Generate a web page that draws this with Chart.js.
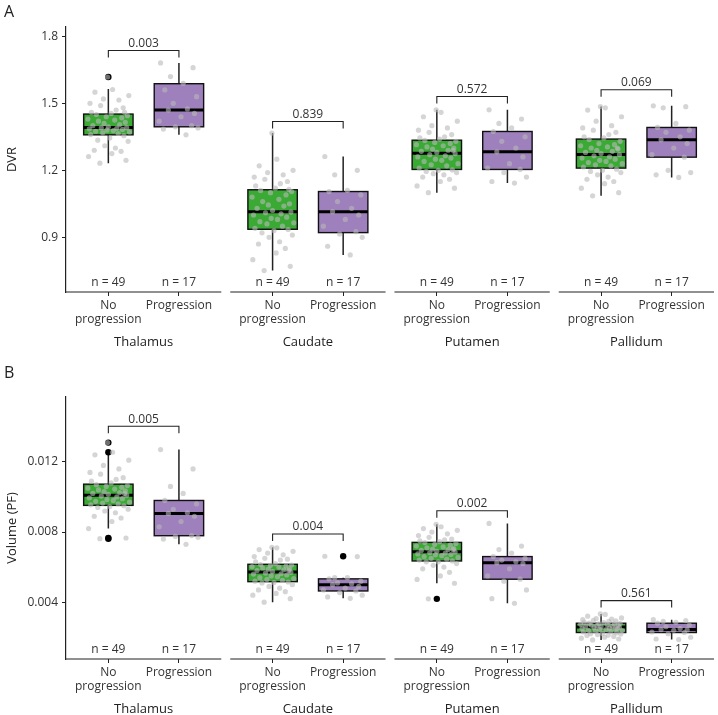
<!DOCTYPE html>
<html>
<head>
<meta charset="utf-8">
<script src="https://cdn.jsdelivr.net/npm/chart.js@4.4.1/dist/chart.umd.min.js"></script>
<style>
    html, body { margin: 0; padding: 0; background: #fff; }
    #wrap { position: relative; width: 718px; height: 715px; }
    .panel { position: absolute; left: 0; }
    #panelA { top: 0; }
    #panelB { top: 355px; }
    .tag { position: absolute; left: 4px; font: 16px 'Open Sans', sans-serif; color: #222; }
</style>
</head>
<body>
<div id="wrap">
    <div class="panel" id="panelA"><canvas id="chartA" width="718" height="355"></canvas></div>
    <div class="panel" id="panelB"><canvas id="chartB" width="718" height="360"></canvas></div>
    <div class="tag" style="top:0px">A</div>
    <div class="tag" style="top:361px">B</div>
</div>
<script>
// Regions (facets) and groups
const regions = ['Thalamus', 'Caudate', 'Putamen', 'Pallidum'];
const groupLabels = [['No', 'progression'], 'Progression'];
const groupSizes = [49, 17];

// Tick labels
const dvrTicks = [0.9, 1.2, 1.5, 1.8];
const volTicks = [0.004, 0.008, 0.012];

// Box summaries [lower whisker, Q1, median, Q3, upper whisker], order: region x group
const dvrBoxes = [
    [1.232, 1.359, 1.392, 1.452, 1.564], [1.359, 1.395, 1.470, 1.588, 1.681],
    [0.751, 0.936, 1.015, 1.113, 1.367], [0.821, 0.921, 1.015, 1.105, 1.262],
    [1.100, 1.204, 1.277, 1.335, 1.471], [1.143, 1.204, 1.283, 1.374, 1.471],
    [1.086, 1.210, 1.271, 1.340, 1.486], [1.168, 1.259, 1.337, 1.392, 1.489]
];
const dvrOutliers = [[1.618], [], [], [], [], [], [], []];
const dvrPValues = ['0.003', '0.839', '0.572', '0.069'];
const dvrBracketY = [1.737, 1.419, 1.531, 1.561];

const volBoxes = [
    [0.00820, 0.00952, 0.01010, 0.01073, 0.01240], [0.00730, 0.00779, 0.00906, 0.00980, 0.01270],
    [0.00400, 0.00517, 0.00572, 0.00616, 0.00713], [0.00422, 0.00464, 0.00500, 0.00533, 0.00540],
    [0.00508, 0.00635, 0.00688, 0.00741, 0.00844], [0.00394, 0.00531, 0.00625, 0.00660, 0.00849],
    [0.00185, 0.00227, 0.00258, 0.00280, 0.00333], [0.00187, 0.00227, 0.00244, 0.00280, 0.00300]
];
const volOutliers = [[0.0131, 0.01255, 0.00766, 0.00762], [], [], [0.00662], [0.00419], [], [], []];
const volPValues = ['0.005', '0.004', '0.002', '0.561'];
const volBracketY = [0.01403, 0.00789, 0.00921, 0.00409];

// Individual subjects
const dvrPoints = [
    [1.232, 1.245, 1.262, 1.275, 1.285, 1.29, 1.30, 1.31, 1.33, 1.335, 1.345, 1.355,
     1.36, 1.365, 1.368, 1.372, 1.375, 1.378, 1.38, 1.383, 1.386, 1.388, 1.39, 1.391,
     1.395, 1.40, 1.405, 1.41, 1.415, 1.42, 1.425, 1.43, 1.435, 1.44, 1.445, 1.45,
     1.455, 1.46, 1.47, 1.48, 1.49, 1.50, 1.515, 1.52, 1.535, 1.55, 1.562, 1.618, 1.46],
    [1.359, 1.385, 1.39, 1.395, 1.40, 1.42, 1.44, 1.455, 1.47, 1.475, 1.50, 1.53, 1.56, 1.59, 1.62, 1.66, 1.681],
    [0.751, 0.77, 0.80, 0.83, 0.85, 0.87, 0.88, 0.90, 0.91, 0.92, 0.93, 0.935,
     0.94, 0.95, 0.96, 0.965, 0.97, 0.98, 0.985, 0.99, 1.0, 1.005, 1.01, 1.013,
     1.02, 1.03, 1.04, 1.045, 1.05, 1.06, 1.07, 1.08, 1.09, 1.10, 1.105, 1.11,
     1.12, 1.13, 1.14, 1.15, 1.16, 1.17, 1.18, 1.19, 1.20, 1.22, 1.25, 1.367, 1.115],
    [0.821, 0.86, 0.90, 0.915, 0.925, 0.95, 0.98, 1.0, 1.015, 1.03, 1.06, 1.09, 1.105, 1.11, 1.18, 1.20, 1.262],
    [1.10, 1.12, 1.13, 1.15, 1.16, 1.17, 1.18, 1.185, 1.19, 1.195, 1.20, 1.202,
     1.21, 1.22, 1.225, 1.23, 1.24, 1.245, 1.25, 1.255, 1.26, 1.265, 1.27, 1.275,
     1.28, 1.285, 1.29, 1.295, 1.30, 1.305, 1.31, 1.315, 1.32, 1.325, 1.33, 1.334,
     1.34, 1.345, 1.35, 1.36, 1.37, 1.38, 1.39, 1.40, 1.42, 1.44, 1.46, 1.471, 1.29],
    [1.143, 1.15, 1.17, 1.19, 1.204, 1.21, 1.23, 1.26, 1.283, 1.30, 1.33, 1.35, 1.374, 1.39, 1.41, 1.43, 1.471],
    [1.086, 1.10, 1.12, 1.14, 1.15, 1.16, 1.17, 1.18, 1.19, 1.195, 1.20, 1.205,
     1.215, 1.22, 1.225, 1.23, 1.235, 1.24, 1.245, 1.25, 1.255, 1.26, 1.265, 1.27,
     1.275, 1.28, 1.285, 1.29, 1.295, 1.30, 1.305, 1.31, 1.315, 1.32, 1.33, 1.338,
     1.345, 1.35, 1.36, 1.37, 1.38, 1.39, 1.40, 1.42, 1.44, 1.47, 1.48, 1.486, 1.30],
    [1.168, 1.18, 1.19, 1.20, 1.259, 1.27, 1.30, 1.32, 1.337, 1.35, 1.37, 1.38, 1.392, 1.41, 1.48, 1.485, 1.489]
];

const volPoints = [
    [0.00762, 0.00766, 0.0082, 0.0086, 0.0088, 0.0089, 0.0091, 0.0092, 0.0093, 0.0094, 0.00945, 0.0095,
     0.00955, 0.0096, 0.00965, 0.0097, 0.00975, 0.0098, 0.00985, 0.0099, 0.00995, 0.0100, 0.01005, 0.0101,
     0.01015, 0.0102, 0.01025, 0.0103, 0.01035, 0.0104, 0.01045, 0.0105, 0.01055, 0.0106, 0.01065, 0.0107,
     0.0108, 0.0109, 0.0110, 0.0111, 0.0113, 0.0114, 0.0116, 0.0118, 0.0121, 0.0124, 0.01255, 0.0131, 0.0102],
    [0.0073, 0.0076, 0.0077, 0.00775, 0.0078, 0.0083, 0.0086, 0.0089, 0.00906, 0.0091, 0.0093, 0.0096, 0.0098, 0.0102, 0.0106, 0.0116, 0.0127],
    [0.0040, 0.0042, 0.0044, 0.0045, 0.0046, 0.0047, 0.0048, 0.0049, 0.0050, 0.0051, 0.00512, 0.00515,
     0.0052, 0.00525, 0.0053, 0.00535, 0.0054, 0.00545, 0.0055, 0.00555, 0.0056, 0.00562, 0.00566, 0.0057,
     0.00575, 0.0058, 0.00585, 0.00588, 0.0059, 0.00595, 0.0060, 0.00603, 0.00606, 0.0061, 0.00612, 0.00615,
     0.0062, 0.0063, 0.0064, 0.00645, 0.0065, 0.0066, 0.0067, 0.0068, 0.0069, 0.0070, 0.0071, 0.00713, 0.0058],
    [0.00422, 0.0043, 0.0044, 0.00455, 0.00464, 0.0047, 0.0048, 0.0049, 0.0050, 0.00505, 0.0051, 0.0052, 0.00533, 0.0054, 0.0054, 0.0066, 0.00662],
    [0.00419, 0.00508, 0.0053, 0.0055, 0.0057, 0.0059, 0.0060, 0.0061, 0.0062, 0.0063, 0.0063, 0.00635,
     0.0064, 0.00645, 0.0065, 0.00655, 0.0066, 0.00665, 0.0067, 0.00672, 0.00675, 0.0068, 0.00683, 0.00686,
     0.0069, 0.00695, 0.0070, 0.00703, 0.00706, 0.0071, 0.00715, 0.0072, 0.00725, 0.0073, 0.00735, 0.0074,
     0.00745, 0.0075, 0.00755, 0.0076, 0.0077, 0.0078, 0.0079, 0.0080, 0.0081, 0.0082, 0.0083, 0.00844, 0.0070],
    [0.00394, 0.0042, 0.0047, 0.0052, 0.00531, 0.0055, 0.0059, 0.0062, 0.00625, 0.0063, 0.0064, 0.0065, 0.0066, 0.0068, 0.0070, 0.0072, 0.00849],
    [0.00185, 0.0019, 0.00195, 0.0020, 0.00205, 0.0021, 0.00212, 0.00215, 0.00218, 0.0022, 0.00222, 0.00225,
     0.0023, 0.00232, 0.00235, 0.00238, 0.0024, 0.00243, 0.00245, 0.00248, 0.0025, 0.00252, 0.00255, 0.00257,
     0.0026, 0.00262, 0.00264, 0.00266, 0.00268, 0.0027, 0.00272, 0.00274, 0.00276, 0.00277, 0.00278, 0.0028,
     0.00283, 0.00286, 0.0029, 0.00293, 0.00296, 0.0030, 0.00303, 0.00306, 0.0031, 0.0032, 0.0033, 0.00333, 0.0025],
    [0.00187, 0.0019, 0.0020, 0.0022, 0.00227, 0.0023, 0.0024, 0.00242, 0.00244, 0.0025, 0.0026, 0.0027, 0.0028, 0.00285, 0.0029, 0.00295, 0.0030]
];

// horizontal jitter offsets (category units), one list per group
const jitterNo = [-0.12, 0.25, -0.28, 0.05, 0.18, -0.2, 0.1, -0.05, 0.28, -0.15,
    0.02, 0.22, -0.25, 0.14, -0.08, 0.3, -0.18, 0.07, -0.02, 0.2,
    -0.27, 0.12, -0.1, 0.26, 0.0, -0.22, 0.16, -0.06, 0.24, -0.14,
    0.09, -0.29, 0.19, -0.03, 0.27, -0.17, 0.04, -0.24, 0.11, 0.21,
    -0.11, -0.26, 0.15, -0.07, 0.29, -0.19, 0.06, -0.01, 0.23];
const jitterProg = [0.1, -0.22, 0.27, -0.05, 0.18, -0.28, 0.03, 0.22, -0.15, 0.12, -0.08, 0.25, -0.2, 0.06, -0.12, 0.2, -0.26];

// Layout of facets on a shared linear x axis
const FACET_W = 2.2;
const FACET_GAP = 0.127;
const BOX_HALF = 0.35;
const groupColors = ['#3aaa35', '#9e80bc'];
const textColor = '#333';
const FONT = "'Open Sans', sans-serif";

function facetStart(r) { return r * (FACET_W + FACET_GAP); }
const catPos = [];
regions.forEach((r, i) => { catPos.push(facetStart(i) + 0.6, facetStart(i) + 1.6); });
const xMax = facetStart(regions.length - 1) + FACET_W;

const boxPlugin = {
    id: 'boxes',
    beforeDatasetsDraw(chart, args, opts) {
        const { ctx, scales: { x, y } } = chart;
        opts.boxes.forEach((b, i) => {
            const left = x.getPixelForValue(catPos[i] - BOX_HALF);
            const right = x.getPixelForValue(catPos[i] + BOX_HALF);
            const mid = x.getPixelForValue(catPos[i]);
            const [lo, q1, med, q3, hi] = b.map(v => y.getPixelForValue(v));
            ctx.save();
            ctx.strokeStyle = '#222';
            ctx.lineWidth = 1.5;
            ctx.beginPath();
            ctx.moveTo(mid, lo); ctx.lineTo(mid, q1);
            ctx.moveTo(mid, q3); ctx.lineTo(mid, hi);
            ctx.stroke();
            ctx.fillStyle = groupColors[i % 2];
            ctx.fillRect(left, q3, right - left, q1 - q3);
            ctx.lineWidth = 1.4;
            ctx.strokeStyle = '#111';
            ctx.strokeRect(left, q3, right - left, q1 - q3);
            ctx.lineWidth = 3;
            ctx.strokeStyle = '#000';
            ctx.beginPath();
            ctx.moveTo(left, med); ctx.lineTo(right, med);
            ctx.stroke();
            ctx.restore();
        });
    },
    afterDatasetsDraw(chart, args, opts) {
        const { ctx, chartArea, scales: { x, y } } = chart;
        ctx.save();
        ctx.font = '12px ' + FONT;
        ctx.fillStyle = textColor;
        ctx.textAlign = 'center';
        // significance brackets
        regions.forEach((r, i) => {
            const x1 = x.getPixelForValue(catPos[2 * i]);
            const x2 = x.getPixelForValue(catPos[2 * i + 1]);
            const yb = y.getPixelForValue(opts.bracketY[i]);
            ctx.strokeStyle = '#222';
            ctx.lineWidth = 1.1;
            ctx.beginPath();
            ctx.moveTo(x1, yb + 7); ctx.lineTo(x1, yb); ctx.lineTo(x2, yb); ctx.lineTo(x2, yb + 7);
            ctx.stroke();
            ctx.textBaseline = 'bottom';
            ctx.fillText(opts.pValues[i], (x1 + x2) / 2, yb - 1);
        });
        // group sizes
        ctx.textBaseline = 'middle';
        catPos.forEach((c, i) => {
            ctx.fillText('n = ' + groupSizes[i % 2], x.getPixelForValue(c), chartArea.bottom - 9);
        });
        ctx.restore();
    },
    afterDraw(chart) {
        const { ctx, chartArea, scales: { x } } = chart;
        ctx.save();
        ctx.strokeStyle = '#222';
        ctx.lineWidth = 1.2;
        ctx.font = '13px ' + FONT;
        ctx.fillStyle = '#222';
        ctx.textAlign = 'center';
        ctx.textBaseline = 'middle';
        regions.forEach((r, i) => {
            const a = x.getPixelForValue(facetStart(i));
            const b = x.getPixelForValue(facetStart(i) + FACET_W);
            ctx.beginPath();
            ctx.moveTo(a, chartArea.bottom); ctx.lineTo(b, chartArea.bottom);
            ctx.stroke();
            ctx.fillText(r, (a + b) / 2, chartArea.bottom + 50);
        });
        ctx.restore();
    }
};

function makePanel(canvasId, cfg) {
    const pts = [];
    const outs = [];
    cfg.points.forEach((vals, i) => {
        const jit = i % 2 === 0 ? jitterNo : jitterProg;
        vals.forEach((v, j) => pts.push({ x: catPos[i] + jit[j % jit.length], y: v }));
        cfg.outliers[i].forEach(v => outs.push({ x: catPos[i], y: v }));
    });

    return new Chart(document.getElementById(canvasId), {
        type: 'scatter',
        data: {
            datasets: [
                { data: pts, backgroundColor: 'rgba(185,185,185,0.6)', borderWidth: 0, pointRadius: 2.6 },
                { data: outs, backgroundColor: '#000', borderWidth: 0, pointRadius: 3.2 }
            ]
        },
        plugins: [boxPlugin],
        options: {
            responsive: false,
            animation: false,
            events: [],
            layout: { padding: { top: cfg.top, right: 1, left: 0, bottom: 0 } },
            plugins: {
                legend: { display: false },
                tooltip: { enabled: false },
                boxes: { boxes: cfg.boxes, bracketY: cfg.bracketY, pValues: cfg.pValues }
            },
            scales: {
                x: {
                    type: 'linear',
                    min: 0,
                    max: xMax,
                    afterBuildTicks: scale => { scale.ticks = catPos.map(v => ({ value: v })); },
                    afterFit: scale => { scale.height = cfg.xHeight; },
                    border: { display: false },
                    grid: { drawOnChartArea: false, drawTicks: true, tickLength: 4, color: '#222' },
                    ticks: {
                        autoSkip: false,
                        maxRotation: 0,
                        padding: 2,
                        color: textColor,
                        font: { family: FONT, size: 12, lineHeight: 1.2 },
                        callback: (v, i) => groupLabels[i % 2]
                    }
                },
                y: {
                    min: cfg.yMin,
                    max: cfg.yMax,
                    afterBuildTicks: scale => { scale.ticks = cfg.ticks.map(v => ({ value: v })); },
                    afterFit: scale => { scale.width = 66; },
                    border: { display: true, color: '#222', width: 1.2 },
                    grid: { drawOnChartArea: false, drawTicks: true, tickLength: 4, color: '#222' },
                    ticks: {
                        padding: 4,
                        color: textColor,
                        font: { family: FONT, size: 12 },
                        callback: v => v.toFixed(cfg.decimals)
                    },
                    title: {
                        display: true,
                        text: cfg.title,
                        color: '#222',
                        font: { family: FONT, size: 13 }
                    }
                }
            }
        }
    });
}

makePanel('chartA', {
    points: dvrPoints, outliers: dvrOutliers, boxes: dvrBoxes,
    bracketY: dvrBracketY, pValues: dvrPValues, ticks: dvrTicks,
    yMin: 0.655, yMax: 1.842, decimals: 1, title: 'DVR',
    top: 27, xHeight: 63
});

makePanel('chartB', {
    points: volPoints, outliers: volOutliers, boxes: volBoxes,
    bracketY: volBracketY, pValues: volPValues, ticks: volTicks,
    yMin: 0.00076, yMax: 0.0157, decimals: 3, title: 'Volume (PF)',
    top: 42, xHeight: 56
});
</script>
</body>
</html>
